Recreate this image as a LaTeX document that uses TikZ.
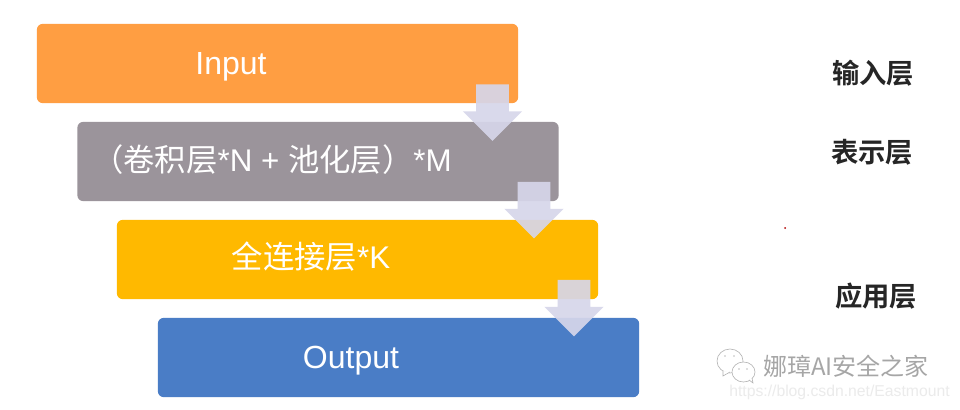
\documentclass[tikz,border=0pt]{standalone}
\usepackage{fontspec}
\usetikzlibrary{shapes.arrows}
\setmainfont{Liberation Sans}
\newfontfamily\cjk{Noto Sans CJK SC}
\newfontfamily\cjkbold{Noto Sans CJK SC Bold}
\definecolor{cOrange}{HTML}{FF9E42}
\definecolor{cGrey}{HTML}{9B949B}
\definecolor{cYellow}{HTML}{FFB900}
\definecolor{cBlue}{HTML}{4A7DC6}
\definecolor{cArrow}{HTML}{D6D6EA}
\tikzset{
  x=0.75pt,y=-0.75pt,
  layerbox/.style={draw=none,rounded corners=4.5pt,minimum width=361pt,minimum height=59.5pt,inner sep=0pt},
  boxtext/.style={inner sep=0pt,text=white,font=\fontsize{#1}{28}\selectfont},
  side/.style={inner sep=0pt,text=black!85,font=\cjkbold\fontsize{20.5}{24}\selectfont},
  flow/.style={single arrow,draw=none,fill=cArrow,fill opacity=0.92,shape border rotate=270,inner sep=0pt,
    text width=24pt,minimum width=44pt,minimum height=42.5pt,single arrow head extend=10pt,single arrow head indent=0pt},
  mark text/.style={inner sep=0pt,text=black!35,font=\cjk\fontsize{18}{22}\selectfont},
  url text/.style={inner sep=0pt,text=black!8,font=\fontsize{11.8}{14}\selectfont},
  bubble/.style={draw=black!30,fill=white,line width=0.45pt}
}
\begin{document}
\begin{tikzpicture}
\useasboundingbox (0,0) rectangle (960,410);
\fill[white] (0,0) rectangle (960,410);
\node[layerbox,fill=cOrange] (input) at (277.5,63.5) {};
\node[layerbox,fill=cGrey] (conv) at (318,161.5) {};
\node[layerbox,fill=cYellow] (fc) at (357.5,259.5) {};
\node[layerbox,fill=cBlue] (output) at (398.5,357.5) {};
\node[boxtext=24] (t1) at (231,67) {Input};
\node[boxtext=23.5] (t2) at (272,160) {{\cjk （卷积层}*N + {\cjk 池化层）}*M};
\node[boxtext=23.5] (t3) at (311,257) {{\cjk 全连接层}*K};
\node[boxtext=24] (t4) at (351,361) {Output};
\node[flow] (a1) at (492.5,104.5) {};
\node[flow] (a2) at (534,202) {};
\node[flow] (a3) at (574,300) {};
\node[side] (s1) at (873,73) {输入层};
\node[side] (s2) at (872,152) {表示层};
\node[side] (s3) at (876,296) {应用层};
\fill[red!70!black] (785,228) circle (1);
\draw[bubble] (730,361) ellipse (13 and 12);
\draw[bubble] (723,371) -- (723,376) -- (730,372);
\fill[black!25] (725,356) circle (0.9) (734,356) circle (0.9);
\draw[bubble] (743.5,372) ellipse (11.5 and 10);
\draw[bubble] (749,380) -- (753,383) -- (752,378);
\fill[black!25] (739,369) circle (0.9) (747,369) circle (0.9);
\node[mark text,anchor=west] (m1) at (763,366) {娜璋AI安全之家};
\node[url text,anchor=west] (m2) at (729,392) {https://blog.csdn.net/Eastmount};
\end{tikzpicture}
\end{document}
